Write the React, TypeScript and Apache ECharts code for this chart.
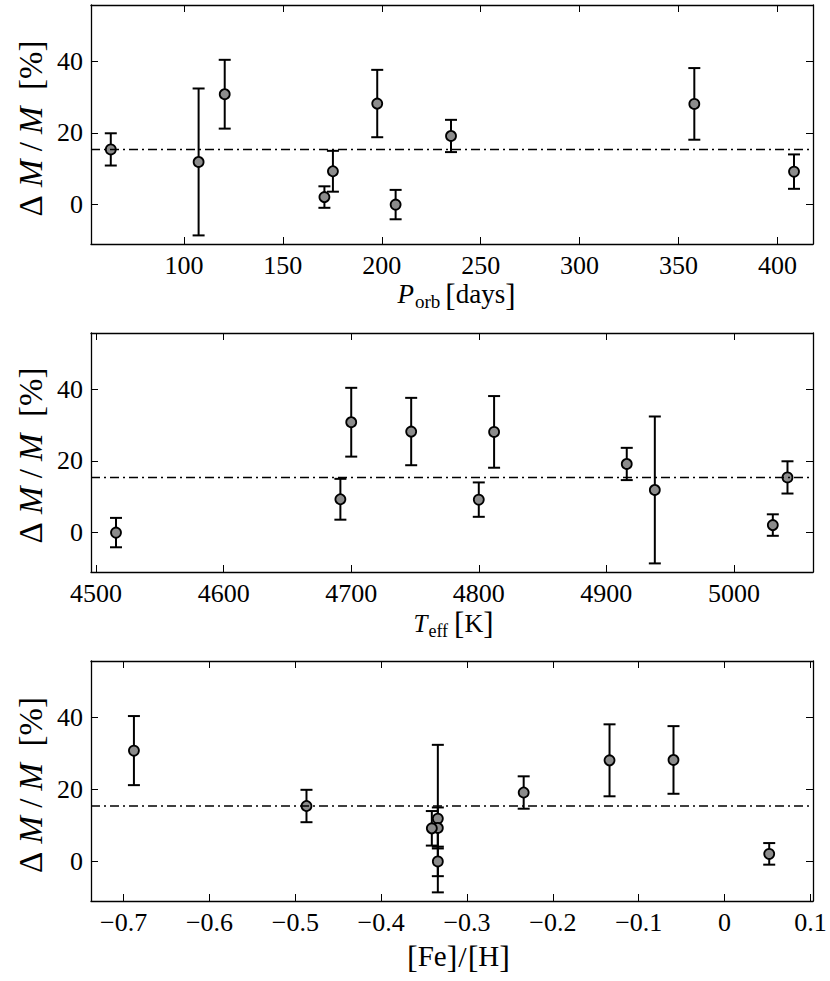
import React, { useEffect, useRef } from "react";
import * as echarts from "echarts";

const FONT = "Liberation Serif";

// ---- data (one entry per star, same order in every array) ----
const porb = [63, 107.4, 120.6, 171, 175.3, 197.7, 207, 235, 358, 408.4];
const teff = [5042, 4938, 4700, 5030.5, 4691.5, 4747, 4515.6, 4916, 4812, 4800];
const feh = [-0.487, -0.334, -0.688, 0.052, -0.334, -0.0595, -0.334, -0.234, -0.134, -0.341];
const dMass = [15.4, 11.9, 30.8, 2.1, 9.3, 28.2, 0.0, 19.15, 28.1, 9.2];
const dMassErr = [4.5, 20.5, 9.6, 3.0, 5.7, 9.4, 4.1, 4.5, 10.0, 4.8];
const meanDMass = 15.4;

// ---- axes ----
const porbTicks = [100, 150, 200, 250, 300, 350, 400];
const teffTicks = [4500, 4600, 4700, 4800, 4900, 5000];
const fehTicks = [-0.7, -0.6, -0.5, -0.4, -0.3, -0.2, -0.1, 0, 0.1];
const dmTicks = [0, 20, 40];
const porbRange = [53, 418];
const teffRange = [4496, 5062];
const fehRange = [-0.738, 0.103];
const dmRange = [-11, 55.7];

type Piece = { t: string; size: number; italic?: boolean; dy?: number; gap?: number };

const panels = [
  {
    xs: porb, range: porbRange, ticks: porbTicks, top: 5, height: 239, yTitleY: 128.5,
    titleCx: 456.5, titleBase: 303.5,
    title: [
      { t: "P", size: 27, italic: true, gap: 1 },
      { t: "orb", size: 19, dy: 4, gap: 5 },
      { t: "[", size: 31, dy: 2 },
      { t: "days", size: 27 },
      { t: "]", size: 31, dy: 2 },
    ] as Piece[],
  },
  {
    xs: teff, range: teffRange, ticks: teffTicks, top: 333, height: 239, yTitleY: 455.5,
    titleCx: 453.5, titleBase: 632,
    title: [
      { t: "T", size: 25, italic: true, gap: 1 },
      { t: "eff", size: 18, dy: 5, gap: 6 },
      { t: "[", size: 31, dy: 2 },
      { t: "K", size: 26 },
      { t: "]", size: 31, dy: 2 },
    ] as Piece[],
  },
  {
    xs: feh, range: fehRange, ticks: fehTicks, top: 661, height: 240, yTitleY: 785,
    titleCx: 458.5, titleBase: 966,
    title: [
      { t: "[", size: 32, dy: 2 },
      { t: "Fe", size: 29 },
      { t: "]", size: 32, dy: 2, gap: 1 },
      { t: "/", size: 30, dy: 1, gap: 1 },
      { t: "[", size: 32, dy: 2 },
      { t: "H", size: 29 },
      { t: "]", size: 32, dy: 2 },
    ] as Piece[],
  },
];

function fmtTick(v: number) {
  const r = Math.round(v * 10) / 10;
  if (r === 0) return "0";
  const s = String(Math.abs(r));
  return r < 0 ? "\u2212" + s : s;
}

function xAxis(grid: number, range: number[], ticks: number[], top: boolean) {
  return {
    type: "value", gridIndex: grid, position: top ? "top" : "bottom",
    min: range[0], max: range[1],
    axisLine: { show: true, onZero: false, lineStyle: { color: "#000", width: 1.3 } },
    axisTick: { show: true, inside: true, length: 7, customValues: ticks, lineStyle: { color: "#000", width: 1 } },
    axisLabel: {
      show: !top, customValues: ticks, formatter: fmtTick,
      fontFamily: FONT, fontSize: 26, lineHeight: 20, color: "#000", margin: 11,
    },
    splitLine: { show: false },
  };
}

function yAxis(grid: number, right: boolean) {
  return {
    type: "value", gridIndex: grid, position: right ? "right" : "left",
    min: dmRange[0], max: dmRange[1],
    axisLine: { show: true, onZero: false, lineStyle: { color: "#000", width: 1.3 } },
    axisTick: { show: true, inside: true, length: 7, customValues: dmTicks, lineStyle: { color: "#000", width: 1 } },
    axisLabel: {
      show: !right, customValues: dmTicks, formatter: fmtTick,
      fontFamily: FONT, fontSize: 26, color: "#000", margin: 8,
    },
    splitLine: { show: false },
  };
}

function measure(ctx: CanvasRenderingContext2D | null, p: Piece) {
  if (!ctx) return p.size * 0.5 * p.t.length;
  ctx.font = `${p.italic ? "italic " : ""}${p.size}px "${FONT}"`;
  return ctx.measureText(p.t).width;
}

function buildOption() {
  const grids: any[] = [];
  const xAxes: any[] = [];
  const yAxes: any[] = [];
  const series: any[] = [];
  const graphic: any[] = [];
  const ctx = document.createElement("canvas").getContext("2d");

  panels.forEach((p, g) => {
    grids.push({ left: 91, right: 17, top: p.top, height: p.height });
    xAxes.push(xAxis(g, p.range, p.ticks, false));
    xAxes.push(xAxis(g, p.range, p.ticks, true));
    yAxes.push(yAxis(g, false));
    yAxes.push(yAxis(g, true));
    const xi = 2 * g;
    const yi = 2 * g;

    series.push({
      type: "line", xAxisIndex: xi, yAxisIndex: yi, silent: true,
      data: [[p.range[0], meanDMass], [p.range[1], meanDMass]],
      showSymbol: false, symbol: "none",
      lineStyle: { color: "#000", width: 1.5, type: [9, 4, 2, 4] },
    });

    series.push({
      type: "custom", xAxisIndex: xi, yAxisIndex: yi, silent: true,
      data: p.xs.map((x, i) => [x, dMass[i], dMassErr[i]]),
      encode: { x: 0, y: 1 },
      renderItem: (_params: any, api: any) => {
        const x = api.value(0);
        const y = api.value(1);
        const e = api.value(2);
        const a = api.coord([x, y + e]);
        const b = api.coord([x, y - e]);
        const hw = 6;
        const st = { stroke: "#000", lineWidth: 2 };
        return {
          type: "group",
          children: [
            { type: "line", shape: { x1: a[0], y1: a[1], x2: b[0], y2: b[1] }, style: st },
            { type: "line", shape: { x1: a[0] - hw, y1: a[1], x2: a[0] + hw, y2: a[1] }, style: st },
            { type: "line", shape: { x1: b[0] - hw, y1: b[1], x2: b[0] + hw, y2: b[1] }, style: st },
          ],
        };
      },
    });

    series.push({
      type: "scatter", xAxisIndex: xi, yAxisIndex: yi, silent: true,
      data: p.xs.map((x, i) => [x, dMass[i]]),
      symbol: "circle", symbolSize: 10,
      itemStyle: { color: "#8c8c8c", borderColor: "#000", borderWidth: 1.8, opacity: 1 },
    });

    // y-axis title
    graphic.push({
      type: "text", x: 31, y: p.yTitleY, rotation: Math.PI / 2,
      style: {
        text: "{r|\u0394} {i|M} {r|/} {i|M}  {r|[%]}",
        fontFamily: FONT, fontSize: 33, fill: "#000",
        align: "center", verticalAlign: "middle",
        rich: {
          r: { fontFamily: FONT, fontSize: 33, fill: "#000" },
          i: { fontFamily: FONT, fontSize: 33, fontStyle: "italic", fill: "#000" },
        },
      },
    });

    // x-axis title, laid out piece by piece
    const widths = p.title.map((f) => measure(ctx, f));
    const total = p.title.reduce((s, f, i) => s + widths[i] + (f.gap || 0), 0);
    let x = p.titleCx - total / 2;
    p.title.forEach((f, i) => {
      graphic.push({
        type: "text", x, y: p.titleBase + (f.dy || 0) - 0.3375 * f.size,
        style: {
          text: f.t, fontFamily: FONT, fontSize: f.size, lineHeight: Math.round(f.size * 0.8),
          fontStyle: f.italic ? "italic" : "normal", fill: "#000",
          align: "left", verticalAlign: "middle",
        },
      });
      x += widths[i] + (f.gap || 0);
    });
  });

  return {
    animation: false,
    backgroundColor: "#fff",
    grid: grids,
    xAxis: xAxes,
    yAxis: yAxes,
    series,
    graphic,
  };
}

const CSS = `#mm-chart svg text, #mm-chart svg tspan { font-family: "Liberation Serif" !important; }`;

export default function App() {
  const ref = useRef<HTMLDivElement>(null);
  useEffect(() => {
    document.body.style.margin = "0";
    const chart = echarts.init(ref.current!, null, { renderer: "svg" });
    chart.setOption(buildOption() as any);
    return () => chart.dispose();
  }, []);
  return (
    <>
      <style>{CSS}</style>
      <div id="mm-chart" ref={ref} style={{ width: 830, height: 981, fontFamily: "Liberation Serif" }} />
    </>
  );
}
